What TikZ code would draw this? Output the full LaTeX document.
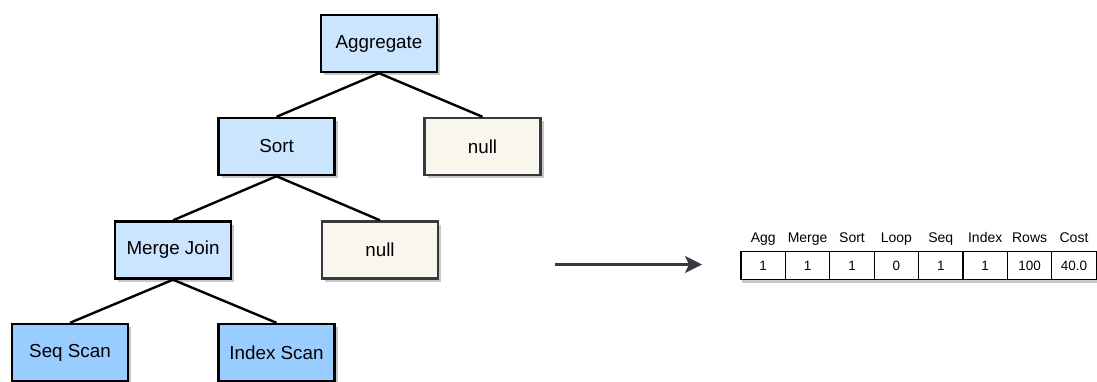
\documentclass[tikz,border=0pt]{standalone}
\usepackage{fontspec}
\setmainfont{Liberation Sans}
\usetikzlibrary{shadows,arrows.meta}
\definecolor{opblue}{HTML}{CCE5FF}
\definecolor{scanblue}{HTML}{99CCFF}
\definecolor{nullfill}{HTML}{F9F7ED}
\definecolor{darkline}{HTML}{36393D}
\begin{document}
\begin{tikzpicture}[x=1pt,y=-1pt,
  box/.style={draw=black, line width=2.4pt, minimum width=116pt, minimum height=57pt,
    inner sep=0pt, font=\fontsize{18.8}{22}\selectfont,
    drop shadow={shadow xshift=3pt,shadow yshift=-3pt,fill=black,opacity=0.22}},
  op/.style={box, fill=opblue},
  scan/.style={box, fill=scanblue},
  nullbox/.style={box, draw=darkline, fill=nullfill},
  link/.style={line width=2.4pt, draw=black},
  cell/.style={draw=black, line width=1.3pt, fill=white, minimum width=44.4pt,
    minimum height=27.5pt, inner sep=0pt, font=\fontsize{13.5}{15}\selectfont,
    drop shadow={shadow xshift=1pt,shadow yshift=-3.5pt,fill=black,opacity=0.22}},
  head/.style={anchor=base, inner sep=0pt, font=\fontsize{14}{16}\selectfont},
  flow/.style={line width=2.4pt, draw=darkline,
    -{Stealth[length=17pt,width=17pt,inset=4pt]}}
]
\useasboundingbox (0,0) rectangle (1097,381);

% plan tree
\node[op]      (agg)   at (379,43.5)  {Aggregate};
\node[op]      (sort)  at (276.5,146.5) {Sort};
\node[nullbox] (nullA) at (482.5,146.5) {null};
\node[op]      (merge) at (173,250)   {Merge Join};
\node[nullbox] (nullB) at (380,250)   {null};
\node[scan]    (seq)   at (70,352.5)  {Seq Scan};
\node[scan]    (index) at (276.5,352.5) {Index Scan};

\draw[link] (agg.south)   -- (sort.north);
\draw[link] (agg.south)   -- (nullA.north);
\draw[link] (sort.south)  -- (merge.north);
\draw[link] (sort.south)  -- (nullB.north);
\draw[link] (merge.south) -- (seq.north);
\draw[link] (merge.south) -- (index.north);

% encoding arrow
\coordinate (flowstart) at (555,264.5);
\coordinate (flowend)   at (702,264.5);
\draw[flow] (flowstart) -- (flowend);

% feature vector
\foreach \i/\h/\v in {1/Agg/1, 2/Merge/1, 3/Sort/1, 4/Loop/0,
                      5/Seq/1, 6/Index/1, 7/Rows/100, 8/Cost/40.0} {
  \node[cell] (c\i) at ({741+44.4*(\i-0.5)},265.5) {\v};
  \node[head] (h\i) at ({741+44.4*(\i-0.5)},242.5) {\h};
}
\end{tikzpicture}
\end{document}
